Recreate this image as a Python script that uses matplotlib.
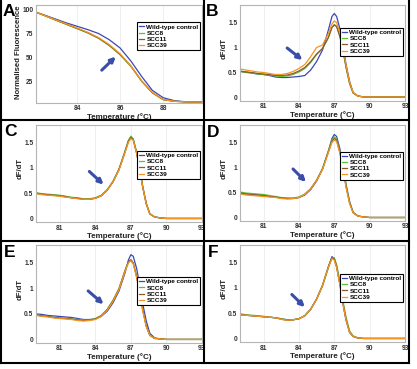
import matplotlib
matplotlib.use("Agg")
import matplotlib.pyplot as plt
from matplotlib.patches import Rectangle
from matplotlib.lines import Line2D

# ---- data ----
labels = ["Wild-type control", "SCC8", "SCC11", "SCC39"]
colors = ["#3b47b5", "#5cbf3a", "#8b5a2f", "#f7941d"]

# panel A: normalised fluorescence
temp_a = [82.1, 82.5, 83, 83.5, 84, 84.5, 85, 85.5, 86, 86.5, 87, 87.5, 88, 88.5, 89, 89.5, 89.8]
a_wt = [97, 94, 90, 86, 82.5, 79, 75, 68.5, 60, 46.5, 30.5, 16, 8.5, 5.5, 4.3, 4.1, 4]
a_scc8 = [97, 93.5, 89, 84.5, 80, 75.5, 70, 62.5, 53, 41, 25.5, 13.5, 6.5, 4.8, 4.2, 4.1, 4]
a_scc11 = [97, 93.5, 89, 84.7, 80.3, 75.8, 70.3, 62.8, 53.3, 41.3, 25.8, 13.5, 6.5, 4.8, 4.2, 4.1, 4]
a_scc39 = [97, 93.6, 89.2, 85, 80.7, 76.2, 70.8, 63.5, 54, 41.5, 26, 13.8, 6.6, 4.8, 4.2, 4.1, 4]

# panels B-F: dF/dT
temp = [79, 79.5, 80, 80.5, 81, 81.5, 82, 82.5, 83, 83.5, 84, 84.5, 85, 85.5, 86,
        86.5, 86.8, 87, 87.2, 87.5, 87.8, 88, 88.3, 88.6, 89, 89.5, 90, 91, 92, 93]

b_wt = [0.52, 0.51, 0.49, 0.47, 0.46, 0.44, 0.41, 0.40, 0.40, 0.41, 0.42, 0.44, 0.55, 0.72, 0.95,
        1.35, 1.62, 1.68, 1.62, 1.35, 0.95, 0.66, 0.32, 0.10, 0.03, 0.01, 0.01, 0.01, 0.01, 0.01]
b_scc8 = [0.52, 0.50, 0.49, 0.47, 0.46, 0.45, 0.43, 0.42, 0.43, 0.46, 0.51, 0.58, 0.70, 0.86, 0.98,
          1.20, 1.40, 1.46, 1.42, 1.20, 0.86, 0.60, 0.28, 0.09, 0.03, 0.01, 0.01, 0.01, 0.01, 0.01]
b_scc11 = [0.53, 0.51, 0.50, 0.48, 0.47, 0.46, 0.44, 0.44, 0.45, 0.48, 0.53, 0.60, 0.72, 0.87, 0.98,
           1.20, 1.40, 1.45, 1.42, 1.20, 0.87, 0.60, 0.28, 0.09, 0.03, 0.01, 0.01, 0.01, 0.01, 0.01]
b_scc39 = [0.57, 0.55, 0.53, 0.51, 0.50, 0.48, 0.46, 0.46, 0.48, 0.52, 0.58, 0.66, 0.82, 1.00, 1.05,
           1.28, 1.47, 1.53, 1.50, 1.28, 0.92, 0.64, 0.30, 0.10, 0.03, 0.01, 0.01, 0.01, 0.01, 0.01]

c_wt = [0.50, 0.48, 0.47, 0.46, 0.45, 0.43, 0.41, 0.40, 0.38, 0.38, 0.40, 0.45, 0.56, 0.73, 0.97,
        1.32, 1.54, 1.61, 1.56, 1.28, 0.90, 0.62, 0.29, 0.09, 0.03, 0.01, 0.0, 0.0, 0.0, 0.0]
c_scc8 = [0.51, 0.49, 0.48, 0.47, 0.46, 0.44, 0.42, 0.41, 0.39, 0.39, 0.41, 0.46, 0.57, 0.74, 0.98,
          1.33, 1.55, 1.63, 1.58, 1.30, 0.92, 0.64, 0.30, 0.10, 0.03, 0.01, 0.0, 0.0, 0.0, 0.0]
c_scc11 = [0.50, 0.48, 0.47, 0.46, 0.45, 0.43, 0.41, 0.40, 0.38, 0.38, 0.40, 0.45, 0.56, 0.73, 0.97,
           1.31, 1.53, 1.60, 1.56, 1.29, 0.91, 0.63, 0.29, 0.09, 0.03, 0.01, 0.0, 0.0, 0.0, 0.0]
c_scc39 = [0.49, 0.47, 0.46, 0.45, 0.44, 0.42, 0.41, 0.39, 0.38, 0.38, 0.40, 0.45, 0.56, 0.73, 0.96,
           1.30, 1.51, 1.58, 1.55, 1.28, 0.90, 0.62, 0.28, 0.09, 0.03, 0.01, 0.0, 0.0, 0.0, 0.0]

d_wt = [0.49, 0.47, 0.46, 0.45, 0.44, 0.42, 0.41, 0.39, 0.38, 0.38, 0.40, 0.45, 0.56, 0.73, 0.97,
        1.33, 1.58, 1.66, 1.62, 1.35, 0.95, 0.66, 0.32, 0.10, 0.03, 0.01, 0.0, 0.0, 0.0, 0.0]
d_scc8 = [0.51, 0.49, 0.48, 0.47, 0.46, 0.44, 0.42, 0.40, 0.39, 0.39, 0.41, 0.47, 0.58, 0.75, 0.98,
          1.33, 1.55, 1.61, 1.57, 1.30, 0.92, 0.64, 0.30, 0.10, 0.03, 0.01, 0.0, 0.0, 0.0, 0.0]
d_scc11 = [0.49, 0.47, 0.46, 0.45, 0.44, 0.42, 0.41, 0.39, 0.38, 0.38, 0.40, 0.46, 0.57, 0.74, 0.97,
           1.31, 1.52, 1.58, 1.55, 1.28, 0.90, 0.62, 0.29, 0.10, 0.03, 0.01, 0.0, 0.0, 0.0, 0.0]
d_scc39 = [0.47, 0.45, 0.44, 0.43, 0.42, 0.41, 0.40, 0.38, 0.37, 0.38, 0.40, 0.46, 0.57, 0.74, 0.96,
           1.30, 1.50, 1.55, 1.52, 1.26, 0.88, 0.60, 0.28, 0.09, 0.03, 0.01, 0.0, 0.0, 0.0, 0.0]

e_wt = [0.50, 0.49, 0.47, 0.46, 0.45, 0.44, 0.43, 0.41, 0.39, 0.39, 0.40, 0.45, 0.55, 0.72, 0.95,
        1.30, 1.56, 1.66, 1.63, 1.38, 0.98, 0.70, 0.36, 0.12, 0.03, 0.01, 0.0, 0.0, 0.0, 0.0]
e_scc8 = [0.48, 0.46, 0.45, 0.43, 0.42, 0.41, 0.40, 0.39, 0.38, 0.38, 0.41, 0.47, 0.59, 0.77, 1.00,
          1.35, 1.52, 1.56, 1.50, 1.22, 0.85, 0.58, 0.26, 0.08, 0.02, 0.01, 0.0, 0.0, 0.0, 0.0]
e_scc11 = [0.48, 0.46, 0.45, 0.43, 0.42, 0.41, 0.40, 0.38, 0.37, 0.38, 0.40, 0.46, 0.58, 0.76, 0.99,
           1.34, 1.52, 1.56, 1.50, 1.22, 0.85, 0.58, 0.26, 0.08, 0.02, 0.01, 0.0, 0.0, 0.0, 0.0]
e_scc39 = [0.47, 0.45, 0.44, 0.42, 0.41, 0.40, 0.39, 0.37, 0.36, 0.37, 0.39, 0.45, 0.57, 0.75, 0.98,
           1.33, 1.50, 1.54, 1.48, 1.20, 0.83, 0.56, 0.25, 0.08, 0.02, 0.01, 0.0, 0.0, 0.0, 0.0]

f_wt = [0.47, 0.46, 0.45, 0.44, 0.43, 0.42, 0.41, 0.39, 0.37, 0.37, 0.39, 0.45, 0.58, 0.78, 1.05,
        1.42, 1.62, 1.58, 1.42, 1.05, 0.60, 0.36, 0.12, 0.04, 0.01, 0.0, 0.0, 0.0, 0.0, 0.0]
f_scc8 = [0.49, 0.47, 0.46, 0.45, 0.44, 0.42, 0.41, 0.39, 0.37, 0.37, 0.39, 0.45, 0.58, 0.78, 1.04,
          1.40, 1.60, 1.60, 1.46, 1.10, 0.66, 0.42, 0.15, 0.05, 0.01, 0.0, 0.0, 0.0, 0.0, 0.0]
f_scc11 = [0.47, 0.46, 0.45, 0.44, 0.43, 0.42, 0.41, 0.38, 0.36, 0.37, 0.39, 0.45, 0.58, 0.78, 1.05,
           1.42, 1.60, 1.57, 1.42, 1.05, 0.62, 0.38, 0.12, 0.04, 0.01, 0.0, 0.0, 0.0, 0.0, 0.0]
f_scc39 = [0.47, 0.46, 0.45, 0.44, 0.43, 0.42, 0.41, 0.38, 0.36, 0.37, 0.39, 0.45, 0.58, 0.78, 1.05,
           1.41, 1.58, 1.55, 1.40, 1.03, 0.60, 0.36, 0.12, 0.04, 0.01, 0.0, 0.0, 0.0, 0.0, 0.0]

# arrow tail / head in data units, one per panel
arrows = {
    "A": ((85.15, 37), (85.8, 51)),
    "B": ((83.0, 0.99), (84.3, 0.75)),
    "C": ((83.5, 0.93), (84.7, 0.67)),
    "D": ((83.5, 0.97), (84.6, 0.71)),
    "E": ((83.4, 0.95), (84.7, 0.69)),
    "F": ((83.4, 0.87), (84.5, 0.62)),
}

W, H = 417, 369
fig = plt.figure(figsize=(W / 100, H / 100), dpi=100)
plt.rcParams["font.family"] = ["Liberation Sans", "DejaVu Sans"]

narrow = ["Liberation Sans Narrow", "Liberation Sans", "DejaVu Sans"]


def px_axes(left, top, right, bottom):
    return fig.add_axes([left / W, 1 - bottom / H, (right - left) / W, (bottom - top) / H])


def style(ax, legend_top):
    for s in ax.spines.values():
        s.set_color("#b5b5b5")
        s.set_linewidth(0.8)
    ax.tick_params(length=0, pad=1.8, labelsize=4.8, labelcolor="#333333")
    for lab in ax.get_xticklabels() + ax.get_yticklabels():
        lab.set_fontweight("bold")
        lab.set_family(narrow)
    ax.grid(True, axis="x", color="#ececec", lw=0.6)
    ax.set_axisbelow(True)
    ax.set_xlabel("Temperature (\u00b0C)", fontsize=5.8, fontweight="bold", family=narrow,
                  color="#222222", labelpad=0.8)
    leg = ax.legend(loc="upper right", bbox_to_anchor=(1.0, legend_top),
                    handlelength=0.9, handletextpad=0.3, labelspacing=0.12, borderpad=0.3,
                    fancybox=False, framealpha=1, borderaxespad=0.25,
                    prop={"family": narrow, "weight": "bold", "size": 4.6})
    leg.get_frame().set_edgecolor("black")
    leg.get_frame().set_linewidth(0.8)


def arrow(ax, key):
    tail, head = arrows[key]
    ax.annotate("", xy=head, xytext=tail,
                arrowprops=dict(arrowstyle="-|>", color="#3a4ea8", lw=2.2, mutation_scale=7,
                                shrinkA=0, shrinkB=0))


# ---- panel A ----
ax = px_axes(36, 5, 202, 103)
for series, c, lab in zip([a_wt, a_scc8, a_scc11, a_scc39], colors, labels):
    ax.plot(temp_a, series, color=c, lw=0.9, label=lab)
ax.set_xlim(82.1, 89.8)
ax.set_ylim(3, 104.5)
ax.set_xticks([84, 86, 88])
ax.set_yticks([25, 50, 75, 100])
ax.set_ylabel("Normalised Fluorescence", fontsize=5.6, fontweight="bold", color="#222222")
ax.yaxis.set_label_coords(-14 / 166, 0.52)
style(ax, 0.84)
arrow(ax, "A")

# ---- panels B-F ----
panels = [
    ("B", (240, 5, 405, 101), [b_wt, b_scc8, b_scc11, b_scc39], 0.78),
    ("C", (36, 125, 202, 222), [c_wt, c_scc8, c_scc11, c_scc39], 0.75),
    ("D", (240, 125, 405, 221), [d_wt, d_scc8, d_scc11, d_scc39], 0.74),
    ("E", (36, 245, 202, 343), [e_wt, e_scc8, e_scc11, e_scc39], 0.69),
    ("F", (240, 245, 405, 342), [f_wt, f_scc8, f_scc11, f_scc39], 0.72),
]
for key, box, data, leg_top in panels:
    ax = px_axes(*box)
    for series, c, lab in zip(data, colors, labels):
        ax.plot(temp, series, color=c, lw=0.9, label=lab)
    ax.set_xlim(79, 93)
    ax.set_ylim(-0.07, 1.85)
    ax.set_xticks([81, 84, 87, 90, 93])
    ax.set_yticks([0, 0.5, 1, 1.5])
    ax.set_yticklabels(["0", "0.5", "1", "1.5"])
    ax.set_ylabel("dF/dT", fontsize=5.6, fontweight="bold", color="#222222")
    ax.yaxis.set_label_coords(-12 / 166, 0.55)
    style(ax, leg_top)
    arrow(ax, key)

# ---- panel frame: white strips that clip the last tick labels, then black rules ----
fig.add_artist(Rectangle((409.5 / W, 0), 1, 1, transform=fig.transFigure, facecolor="white",
                         edgecolor="none", zorder=5))
fig.add_artist(Rectangle((203 / W, 0), 4 / W, 1, transform=fig.transFigure, facecolor="white",
                         edgecolor="none", zorder=5))
fig.add_artist(Rectangle((0, 0), 1, 1 - 364 / H, transform=fig.transFigure, facecolor="white",
                         edgecolor="none", zorder=5))


def rule(x0, y0, x1, y1):
    fig.add_artist(Line2D([x0 / W, x1 / W], [1 - y0 / H, 1 - y1 / H], color="black", lw=1.5,
                          transform=fig.transFigure, zorder=6))


rule(204, 0, 204, 363)
rule(0, 119.5, 409, 119.5)
rule(0, 241, 409, 241)
rule(0.8, 0, 0.8, 363)
rule(409, 0, 409, 363)
rule(0, 363, 409, 363)

letters = {"A": (3, 4), "B": (206, 4), "C": (4, 124), "D": (207, 125), "E": (4, 245), "F": (208, 245)}
for letter, (x, y) in letters.items():
    fig.text(x / W, 1 - y / H, letter, fontsize=12.5, fontweight="bold", va="top", ha="left",
             zorder=7)

fig.savefig("out.png", dpi=100)
